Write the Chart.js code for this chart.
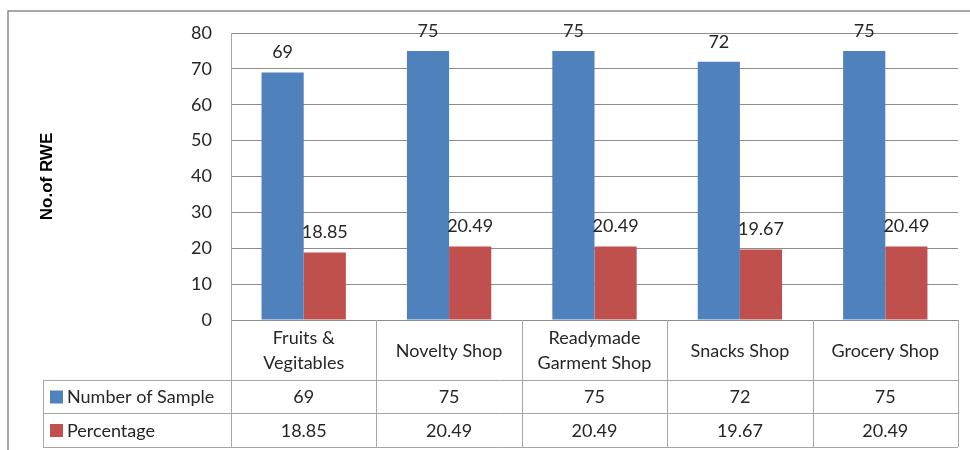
<!DOCTYPE html>
<html>
<head>
<meta charset="utf-8">
<script src="https://cdn.jsdelivr.net/npm/chart.js@4"></script>
<style>
  html, body { margin: 0; padding: 0; background: #fff; }
  #wrap { width: 970px; height: 450px; }
</style>
</head>
<body>
<div id="wrap"><canvas id="rwe" width="970" height="450"></canvas></div>
<script>
// shop categories and the two series shown in the data table
const categories = [['Fruits &', 'Vegitables'], ['Novelty Shop'], ['Readymade', 'Garment Shop'], ['Snacks Shop'], ['Grocery Shop']]
const sampleCount = [69, 75, 75, 72, 75]
const percentage = [18.85, 20.49, 20.49, 19.67, 20.49]
const seriesNames = ['Number of Sample', 'Percentage']
const seriesColors = ['#4f81bd', '#c0504d']
const yTicks = [0, 10, 20, 30, 40, 50, 60, 70, 80]

const FONT = 'Lato, "Open Sans", sans-serif'
const SIZE = 18
const TEXT = '#262626'
const LINE = '#a6a6a6'

// values over each bar
const barLabels = {
  id: 'barLabels',
  afterDatasetsDraw(chart) {
    const ctx = chart.ctx
    ctx.save()
    ctx.font = SIZE + 'px ' + FONT
    ctx.fillStyle = TEXT
    ctx.textAlign = 'center'
    ctx.textBaseline = 'middle'
    chart.data.datasets.forEach((ds, i) => {
      chart.getDatasetMeta(i).data.forEach((bar, j) => {
        ctx.fillText(String(ds.data[j]), bar.x, bar.y - 20)
      })
    })
    ctx.restore()
  }
}

// data table under the plot, frame and axis title
const dataTable = {
  id: 'dataTable',
  afterDraw(chart) {
    const ctx = chart.ctx
    const area = chart.chartArea
    const x = chart.scales.x
    const n = categories.length
    const colW = (area.right - area.left) / n
    const rows = [area.bottom, area.bottom + 60, area.bottom + 93, area.bottom + 127]
    const legendLeft = 43

    ctx.save()
    // outer frame
    ctx.strokeStyle = '#8a8a8a'
    ctx.lineWidth = 1.5
    ctx.beginPath()
    ctx.moveTo(8, 450)
    ctx.lineTo(8, 11)
    ctx.lineTo(970, 11)
    ctx.stroke()

    // table grid
    ctx.strokeStyle = LINE
    ctx.lineWidth = 1
    ctx.beginPath()
    for (let r = 1; r < rows.length; r++) {
      ctx.moveTo(legendLeft, rows[r] + 0.5)
      ctx.lineTo(area.right, rows[r] + 0.5)
    }
    ctx.moveTo(legendLeft + 0.5, rows[1])
    ctx.lineTo(legendLeft + 0.5, rows[3])
    for (let c = 0; c <= n; c++) {
      const cx = Math.round(area.left + c * colW) + 0.5
      ctx.moveTo(cx, rows[0])
      ctx.lineTo(cx, rows[3])
    }
    ctx.stroke()

    // category labels
    ctx.font = SIZE + 'px ' + FONT
    ctx.fillStyle = TEXT
    ctx.textAlign = 'center'
    ctx.textBaseline = 'middle'
    const midCat = (rows[0] + rows[1]) / 2 + 1
    categories.forEach((lines, i) => {
      const cx = x.getPixelForValue(i)
      lines.forEach((t, k) => {
        ctx.fillText(t, cx, midCat + (k - (lines.length - 1) / 2) * 25)
      })
    })

    // series rows
    const series = [sampleCount, percentage]
    series.forEach((vals, s) => {
      const cy = (rows[s + 1] + rows[s + 2]) / 2 + 1
      ctx.fillStyle = seriesColors[s]
      ctx.fillRect(legendLeft + 7, cy - 7, 13, 13)
      ctx.fillStyle = TEXT
      ctx.textAlign = 'left'
      ctx.fillText(seriesNames[s], legendLeft + 24, cy)
      ctx.textAlign = 'center'
      vals.forEach((v, i) => ctx.fillText(String(v), x.getPixelForValue(i), cy))
    })

    // y axis title
    ctx.font = 'bold 17px "Liberation Sans", Arial, sans-serif'
    ctx.fillStyle = '#000'
    ctx.translate(47, (area.top + area.bottom) / 2)
    ctx.rotate(-Math.PI / 2)
    ctx.fillText('No.of RWE', 0, 0)
    ctx.restore()
  }
}

new Chart(document.getElementById('rwe'), {
  type: 'bar',
  data: {
    labels: categories.map(l => l.join(' ')),
    datasets: [
      { label: seriesNames[0], data: sampleCount, backgroundColor: seriesColors[0] },
      { label: seriesNames[1], data: percentage, backgroundColor: seriesColors[1] }
    ]
  },
  options: {
    responsive: false,
    animation: false,
    categoryPercentage: 0.58,
    barPercentage: 1,
    layout: { padding: { left: 8, top: 33, right: 12, bottom: 130 } },
    plugins: { legend: { display: false }, tooltip: { enabled: false } },
    scales: {
      x: { display: false },
      y: {
        min: 0,
        max: 80,
        afterFit(scale) { scale.width = 223 },
        afterBuildTicks(scale) { scale.ticks = yTicks.map(v => ({ value: v })) },
        border: { display: true, color: LINE, width: 1 },
        grid: { color: '#8c8c8c', drawTicks: false },
        ticks: { color: TEXT, padding: 19, font: { size: SIZE, family: FONT } }
      }
    }
  },
  plugins: [barLabels, dataTable]
})
</script>
</body>
</html>
